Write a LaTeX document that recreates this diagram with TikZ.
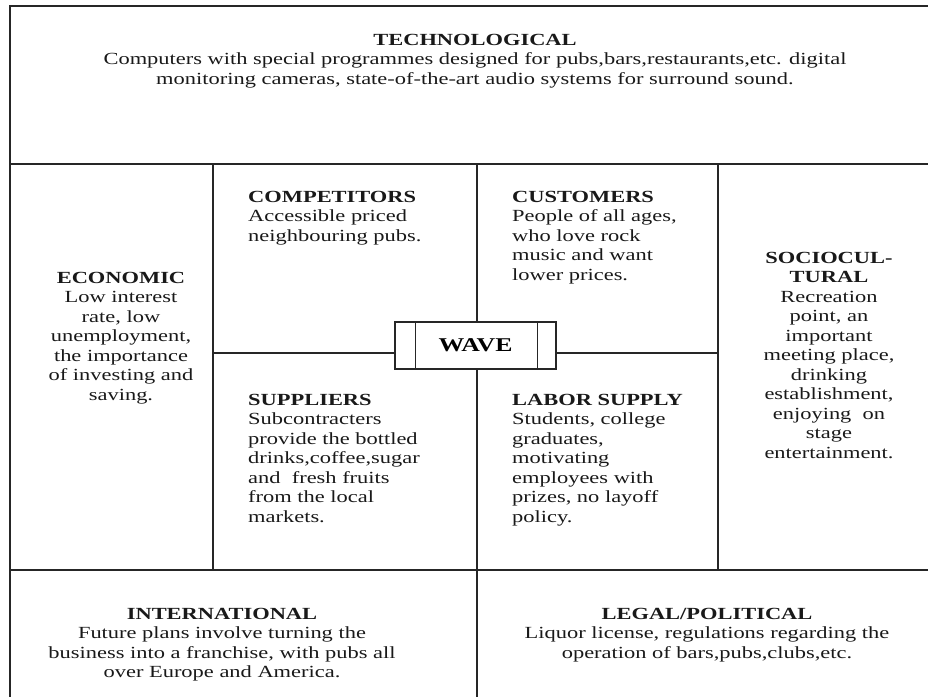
\documentclass[tikz,border=0pt]{standalone}
\usepackage{fontspec}
\setmainfont{Liberation Serif}[FakeStretch=1.32]
\begin{document}
\begin{tikzpicture}[x=1pt,y=-1pt,
  rule/.style={line width=1.3pt, draw=black!85},
  txt/.style={inner sep=0pt, text=black!90, font=\fontsize{17}{19.5}\selectfont},
  ctxt/.style={txt, anchor=north, align=center},
  ltxt/.style={txt, anchor=north west, align=left},
  wavebox/.style={rule, minimum width=161pt, minimum height=47pt, inner sep=0pt,
    font=\fontsize{19.5}{22}\selectfont\bfseries}
]
\useasboundingbox (0,0) rectangle (928,696);

% grid of the analysis
\coordinate (tl) at (10,6);
\coordinate (br) at (945,710);
\begin{scope}
  \clip (0,0) rectangle (928,696);
  \draw[rule] (tl) rectangle (br);
  \draw[rule] (10,164) -- (945,164);
  \draw[rule] (10,570) -- (945,570);
  \draw[rule] (213,164) -- (213,570);
  \draw[rule] (718,164) -- (718,570);
  \draw[rule] (477,570) -- (477,710);
\end{scope}

% centre box
\node[wavebox, draw] (wave) at (475.5,345.5) {WAVE};
\draw[rule] ([xshift=21pt]wave.north west) -- ([xshift=21pt]wave.south west);
\draw[rule] ([xshift=-19pt]wave.north east) -- ([xshift=-19pt]wave.south east);

\coordinate (up) at (477,164);
\coordinate (down) at (477,570);
\coordinate (lft) at (213,353);
\coordinate (rgt) at (718,353);
\draw[rule] (wave.north -| up) -- (up);
\draw[rule] (wave.south -| down) -- (down);
\draw[rule] (wave.west |- lft) -- (lft);
\draw[rule] (wave.east |- rgt) -- (rgt);

% texts
\node[ctxt] (tech) at (475,34) {\textbf{TECHNOLOGICAL}\\
Computers with special programmes designed for pubs,bars,restaurants,etc. digital\\
monitoring cameras, state-of-the-art audio systems for surround sound.};

\node[ltxt] (comp) at (248,191) {\textbf{COMPETITORS}\\
Accessible priced\\neighbouring pubs.};

\node[ltxt] (cust) at (512,191) {\textbf{CUSTOMERS}\\
People of all ages,\\who love rock\\music and want\\lower prices.};

\node[ctxt] (econ) at (121,272) {\textbf{ECONOMIC}\\
Low interest\\rate, low\\unemployment,\\the importance\\of investing and\\saving.};

\node[ctxt] (soc) at (829,252) {\textbf{SOCIOCUL-}\\\textbf{TURAL}\\
Recreation\\point, an\\important\\meeting place,\\drinking\\establishment,\\enjoying\ \ on\\stage\\entertainment.};

\node[ltxt] (supp) at (248,394) {\textbf{SUPPLIERS}\\
Subcontracters\\provide the bottled\\drinks,coffee,sugar\\and\ \ fresh fruits\\from the local\\markets.};

\node[ltxt] (labor) at (512,394) {\textbf{LABOR SUPPLY}\\
Students, college\\graduates,\\motivating\\employees with\\prizes, no layoff\\policy.};

\node[ctxt] (intl) at (222,608) {\textbf{INTERNATIONAL}\\
Future plans involve turning the\\business into a franchise, with pubs all\\over Europe and America.};

\node[ctxt] (legal) at (707,608) {\textbf{LEGAL/POLITICAL}\\
Liquor license, regulations regarding the\\operation of  bars,pubs,clubs,etc.};
\end{tikzpicture}
\end{document}
